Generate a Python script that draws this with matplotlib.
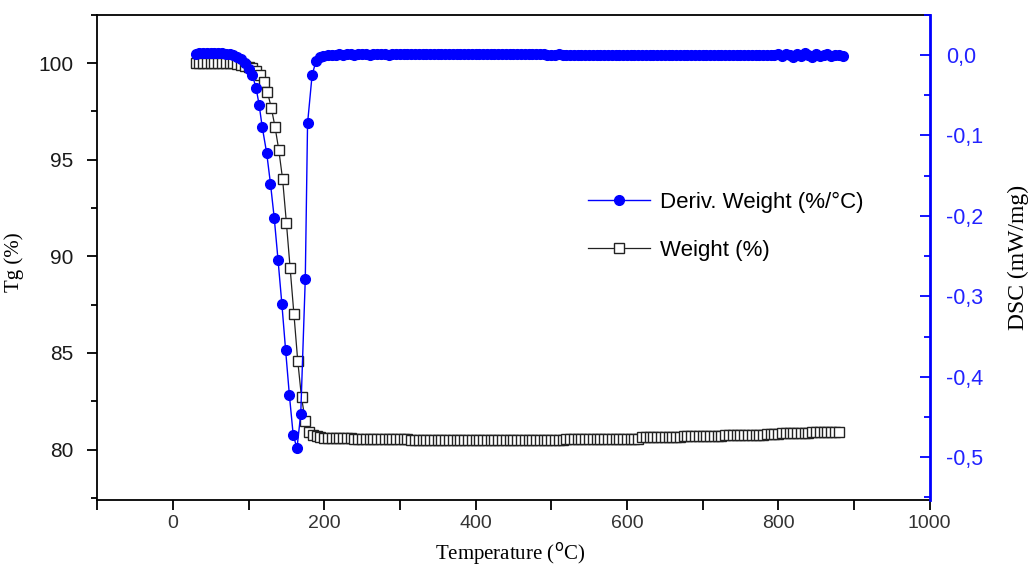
import matplotlib
matplotlib.use('Agg')
import matplotlib.pyplot as plt
from matplotlib.ticker import MultipleLocator, FuncFormatter

# ---- TGA: weight (%) vs temperature ----
temp_w = [30, 35, 40, 45, 50, 55, 60, 65, 70, 75, 80, 85, 90, 95, 100,
          105, 110, 115, 120, 125, 130, 135, 140, 145, 150, 155, 160, 165, 170, 175,
          180, 185, 190, 195, 200, 205, 210, 215, 220, 225, 230, 235, 240, 245, 250,
          255, 260, 265, 270, 275, 280, 285, 290, 295, 300, 305, 310, 315, 320, 325,
          330, 335, 340, 345, 350, 355, 360, 365, 370, 375, 380, 385, 390, 395, 400,
          405, 410, 415, 420, 425, 430, 435, 440, 445, 450, 455, 460, 465, 470, 475,
          480, 485, 490, 495, 500, 505, 510, 515, 520, 525, 530, 535, 540, 545, 550,
          555, 560, 565, 570, 575, 580, 585, 590, 595, 600, 605, 610, 615, 620, 625,
          630, 635, 640, 645, 650, 655, 660, 665, 670, 675, 680, 685, 690, 695, 700,
          705, 710, 715, 720, 725, 730, 735, 740, 745, 750, 755, 760, 765, 770, 775,
          780, 785, 790, 795, 800, 805, 810, 815, 820, 825, 830, 835, 840, 845, 850,
          855, 860, 865, 870, 875, 880]
weight = [100.00, 100.00, 100.00, 100.00, 100.00, 100.00, 100.00, 100.00, 100.00, 99.99,
          99.98, 99.96, 99.92, 99.87, 99.80, 99.72, 99.58, 99.36, 99.03, 98.50,
          97.70, 96.70, 95.50, 94.00, 91.75, 89.40, 87.00, 84.60, 82.70, 81.50,
          80.90, 80.76, 80.68, 80.64, 80.62, 80.60, 80.60, 80.59, 80.59, 80.58,
          80.58, 80.58, 80.57, 80.57, 80.57, 80.56, 80.56, 80.54, 80.54, 80.53,
          80.53, 80.53, 80.53, 80.53, 80.53, 80.53, 80.53, 80.52, 80.52, 80.52,
          80.52, 80.52, 80.52, 80.52, 80.52, 80.52, 80.52, 80.52, 80.52, 80.52,
          80.52, 80.52, 80.52, 80.52, 80.52, 80.52, 80.52, 80.52, 80.52, 80.52,
          80.52, 80.52, 80.52, 80.52, 80.52, 80.52, 80.52, 80.52, 80.52, 80.52,
          80.52, 80.52, 80.52, 80.52, 80.52, 80.52, 80.52, 80.52, 80.56, 80.56,
          80.56, 80.56, 80.56, 80.56, 80.56, 80.56, 80.56, 80.56, 80.56, 80.56,
          80.56, 80.56, 80.56, 80.56, 80.56, 80.56, 80.56, 80.56, 80.63, 80.63,
          80.63, 80.63, 80.63, 80.63, 80.63, 80.63, 80.63, 80.63, 80.63, 80.70,
          80.70, 80.70, 80.70, 80.70, 80.70, 80.70, 80.70, 80.70, 80.70, 80.70,
          80.77, 80.77, 80.77, 80.77, 80.77, 80.77, 80.77, 80.77, 80.77, 80.77,
          80.77, 80.83, 80.83, 80.83, 80.83, 80.88, 80.88, 80.88, 80.88, 80.88,
          80.88, 80.88, 80.88, 80.93, 80.93, 80.93, 80.93, 80.93, 80.93, 80.93,
          80.93]

# ---- DSC / derivative signal vs temperature ----
temp_d = [30, 35, 40, 45, 50, 55, 60, 65, 70, 75, 80, 85, 90, 95, 100,
          105, 110, 114, 118, 124, 129, 134, 139, 144, 149, 154, 159, 164, 169, 175,
          178, 184, 189, 194, 199, 205, 210, 215, 220, 225, 230, 235, 240, 245, 250,
          255, 260, 265, 270, 275, 280, 285, 290, 295, 300, 305, 310, 315, 320, 325,
          330, 335, 340, 345, 350, 355, 360, 365, 370, 375, 380, 385, 390, 395, 400,
          405, 410, 415, 420, 425, 430, 435, 440, 445, 450, 455, 460, 465, 470, 475,
          480, 485, 490, 495, 500, 505, 510, 515, 520, 525, 530, 535, 540, 545, 550,
          555, 560, 565, 570, 575, 580, 585, 590, 595, 600, 605, 610, 615, 620, 625,
          630, 635, 640, 645, 650, 655, 660, 665, 670, 675, 680, 685, 690, 695, 700,
          705, 710, 715, 720, 725, 730, 735, 740, 745, 750, 755, 760, 765, 770, 775,
          780, 785, 790, 795, 800, 805, 810, 815, 820, 825, 830, 835, 840, 845, 850,
          855, 860, 865, 870, 875, 880, 885]
dsc = [0.001, 0.002, 0.003, 0.003, 0.003, 0.002, 0.002, 0.002, 0.001, 0.001,
       0.000, -0.002, -0.005, -0.010, -0.017, -0.025, -0.041, -0.062, -0.089, -0.122,
       -0.160, -0.203, -0.255, -0.309, -0.367, -0.423, -0.472, -0.489, -0.446, -0.278,
       -0.085, -0.025, -0.008, -0.003, -0.001, 0.000, 0.000, 0.000, 0.001, 0.000,
       0.001, 0.001, 0.000, 0.001, 0.001, 0.001, 0.000, 0.001, 0.001, 0.001,
       0.001, 0.000, 0.001, 0.001, 0.001, 0.001, 0.001, 0.001, 0.001, 0.001,
       0.001, 0.001, 0.001, 0.001, 0.001, 0.001, 0.001, 0.001, 0.001, 0.001,
       0.001, 0.001, 0.001, 0.001, 0.001, 0.001, 0.001, 0.001, 0.001, 0.001,
       0.001, 0.001, 0.001, 0.001, 0.001, 0.001, 0.001, 0.001, 0.001, 0.001,
       0.001, 0.001, 0.001, 0.000, 0.000, 0.000, 0.001, 0.000, 0.000, 0.000,
       0.000, 0.000, 0.000, 0.000, 0.000, 0.000, 0.000, 0.000, 0.000, 0.000,
       0.000, 0.000, 0.000, 0.000, 0.000, 0.000, 0.000, 0.000, 0.000, 0.000,
       0.000, 0.000, 0.000, 0.000, 0.000, 0.000, 0.000, 0.000, 0.000, 0.000,
       0.000, 0.000, 0.000, 0.000, 0.000, 0.000, 0.000, 0.000, 0.000, 0.000,
       0.000, 0.000, 0.000, 0.000, 0.000, 0.000, 0.000, 0.000, 0.000, 0.000,
       0.000, 0.000, 0.000, 0.000, 0.001, -0.001, 0.001, 0.000, -0.002, 0.001,
       -0.001, 0.002, 0.000, -0.002, 0.001, -0.001, 0.000, 0.001, -0.001, 0.000,
       0.000, -0.001]

SANS = 'Liberation Sans'
SERIF = 'Liberation Serif'
BLUE = '#0000ff'

fig = plt.figure(figsize=(10.34, 5.68), dpi=100)
ax = fig.add_axes([0.094, 0.12, 0.805, 0.854])
ax2 = ax.twinx()

ax.plot(temp_w, weight, '-', color='#222222', lw=0.9, marker='s', ms=6.5,
        mfc='white', mec='#222222', mew=1.0, label='Weight (%)')
ax2.plot(temp_d, dsc, '-', color=BLUE, lw=1.0, marker='o', ms=7,
         mfc=BLUE, mec=BLUE, label='Deriv. Weight (%/°C)')

# left / bottom axis
ax.set_xlim(-100, 1000)
ax.set_ylim(77.4, 102.5)
ax.xaxis.set_major_locator(MultipleLocator(200))
ax.xaxis.set_minor_locator(MultipleLocator(100))
ax.yaxis.set_major_locator(MultipleLocator(5))
ax.yaxis.set_minor_locator(MultipleLocator(2.5))
ax.tick_params(axis='x', which='both', direction='out', length=7, width=1.3,
               labelsize=14, labelcolor='#333333', pad=4)
ax.tick_params(axis='y', which='major', direction='out', length=7, width=1.3,
               labelsize=15, labelcolor='#1a1a1a', pad=10)
ax.tick_params(axis='y', which='minor', direction='out', length=4, width=1.3)
for lab in ax.get_xticklabels() + ax.get_yticklabels():
    lab.set_fontfamily(SANS)
for side in ['left', 'bottom', 'top']:
    ax.spines[side].set_linewidth(1.3)
ax.spines['right'].set_visible(False)

ax.set_xlabel('Temperature ($^{\\rm o}$C)', fontsize=15, family=SERIF)
ax.set_ylabel('Tg (%)', fontsize=15, family=SERIF)
ax.xaxis.set_label_coords(0.496, -0.083)
ax.yaxis.set_label_coords(-0.088, 0.49)

# right axis (DSC)
ax2.set_ylim(-0.553, 0.05)
ax2.yaxis.set_major_locator(MultipleLocator(0.1))
ax2.yaxis.set_minor_locator(MultipleLocator(0.05))
ax2.yaxis.set_major_formatter(FuncFormatter(lambda v, p: f'{v:.1f}'.replace('.', ',').replace('-0,0', '0,0')))
ax2.tick_params(axis='y', which='major', direction='in', length=7, width=1.3,
                color=BLUE, labelcolor='#2222ff', labelsize=15.5, pad=12)
ax2.tick_params(axis='y', which='minor', direction='in', length=4, width=1.3, color=BLUE)
for lab in ax2.get_yticklabels():
    lab.set_fontfamily(SANS)
ax2.spines['right'].set_color(BLUE)
ax2.spines['right'].set_linewidth(2)
for side in ['left', 'bottom', 'top']:
    ax2.spines[side].set_visible(False)
ax2.set_ylabel('DSC (mW/mg)', fontsize=17, family=SERIF)
ax2.yaxis.set_label_coords(1.094, 0.5)

# legend: derivative first, then weight
h2, l2 = ax2.get_legend_handles_labels()
h1, l1 = ax.get_legend_handles_labels()
ax2.legend(h2 + h1, l2 + l1, loc='upper left', bbox_to_anchor=(0.5687, 0.662),
           bbox_transform=fig.transFigure, frameon=False, numpoints=1,
           handlelength=2.8, handletextpad=0.45, labelspacing=1.2,
           borderpad=0, borderaxespad=0, prop={'family': SANS, 'size': 16})

fig.savefig('out.png', dpi=100)
